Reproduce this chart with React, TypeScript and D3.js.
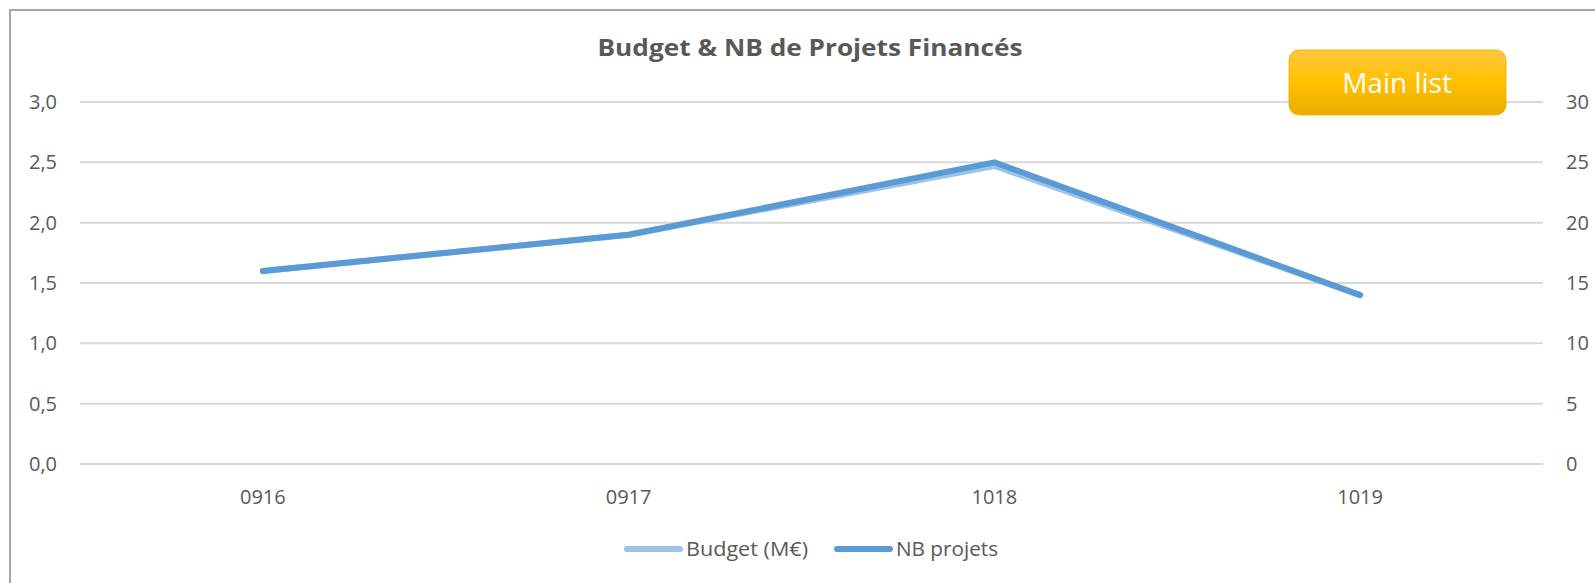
import React from "react";
import * as d3 from "d3";

const categories = ["0916", "0917", "1018", "1019"];
const budget = [1.6, 1.9, 2.47, 1.4];
const nbProjets = [16, 19, 25, 14];
const leftTicks = [0, 0.5, 1, 1.5, 2, 2.5, 3];
const rightTicks = [0, 5, 10, 15, 20, 25, 30];
const title = "Budget & NB de Projets Financés";
const seriesNames = ["Budget (M€)", "NB projets"];

const W = 1595;
const H = 583;
const FONT = "'Open Sans', sans-serif";
const TXT = "#595959";

export default function App() {
  const plotL = 80, plotR = 1543, plotT = 102, plotB = 464;
  const x = d3.scaleBand<string>().domain(categories).range([plotL, plotR]);
  const yL = d3.scaleLinear().domain([0, 3]).range([plotB, plotT]);
  const yR = d3.scaleLinear().domain([0, 30]).range([plotB, plotT]);
  const cx = (c: string) => (x(c) as number) + x.bandwidth() / 2;

  const lineL = d3.line<number>().x((_, i) => cx(categories[i])).y((d) => yL(d));
  const lineR = d3.line<number>().x((_, i) => cx(categories[i])).y((d) => yR(d));
  const fmt = (v: number) => v.toFixed(1).replace(".", ",");

  return (
    <div style={{ position: "absolute", left: 0, top: 0, width: W, height: H, background: "#fff" }}>
      <svg width={W} height={H} style={{ display: "block" }}>
        <defs>
          <linearGradient id="btn" x1="0" y1="0" x2="0" y2="1">
            <stop offset="0" stopColor="#FFC83D" />
            <stop offset="0.5" stopColor="#FFC000" />
            <stop offset="1" stopColor="#E8AE00" />
          </linearGradient>
        </defs>
        <rect x={0} y={0} width={W} height={H} fill="#fff" />
        {/* border */}
        <path d={`M10,${H} L10,10 L${W},10`} fill="none" stroke="#A6A6A6" strokeWidth={2} />
        {/* title */}
        <text x={810} y={56} textAnchor="middle" fontFamily={FONT} fontWeight={700} fontSize={23}
          fill={TXT} textLength={425} lengthAdjust="spacingAndGlyphs">{title}</text>
        {/* gridlines */}
        {leftTicks.map((t) => (
          <line key={t} x1={plotL} x2={plotR} y1={yL(t)} y2={yL(t)} stroke="#D9D9D9" strokeWidth={2} />
        ))}
        {/* left axis labels */}
        {leftTicks.map((t) => (
          <text key={"l" + t} x={57} y={yL(t)} dy="0.35em" textAnchor="end" fontFamily={FONT}
            fontSize={20} fill={TXT}>{fmt(t)}</text>
        ))}
        {/* right axis labels */}
        {rightTicks.map((t) => (
          <text key={"r" + t} x={1566} y={yR(t)} dy="0.35em" textAnchor="start" fontFamily={FONT}
            fontSize={20} fill={TXT}>{t}</text>
        ))}
        {/* category labels */}
        {categories.map((c) => (
          <text key={c} x={cx(c)} y={497} dy="0.35em" textAnchor="middle" fontFamily={FONT}
            fontSize={20} fill={TXT}>{c}</text>
        ))}
        {/* series */}
        <path d={lineL(budget) as string} fill="none" stroke="#9DC3E6" strokeWidth={6}
          strokeLinejoin="round" strokeLinecap="round" />
        <path d={lineR(nbProjets) as string} fill="none" stroke="#5B9BD5" strokeWidth={6}
          strokeLinejoin="round" strokeLinecap="round" />
        {/* legend */}
        <line x1={627} x2={680} y1={549} y2={549} stroke="#9DC3E6" strokeWidth={6} strokeLinecap="round" />
        <text x={686} y={549} dy="0.35em" fontFamily={FONT} fontSize={20} fill={TXT}
          textLength={122} lengthAdjust="spacingAndGlyphs">{seriesNames[0]}</text>
        <line x1={837} x2={890} y1={549} y2={549} stroke="#5B9BD5" strokeWidth={6} strokeLinecap="round" />
        <text x={896} y={549} dy="0.35em" fontFamily={FONT} fontSize={20} fill={TXT}
          textLength={102} lengthAdjust="spacingAndGlyphs">{seriesNames[1]}</text>
        {/* button */}
        <rect x={1289} y={50} width={217} height={65} rx={10} ry={10} fill="url(#btn)" stroke="#F2B800" strokeWidth={1} />
        <text x={1397} y={83} dy="0.35em" textAnchor="middle" fontFamily={FONT} fontSize={28} fill="#fff">Main list</text>
      </svg>
    </div>
  );
}
